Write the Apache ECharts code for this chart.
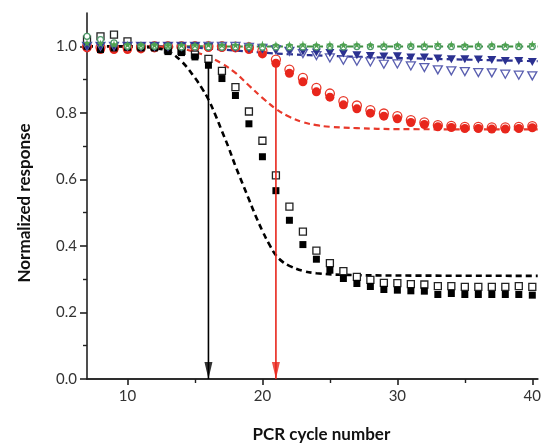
<!DOCTYPE html>
<html><head><meta charset="utf-8">
<script src="https://cdn.jsdelivr.net/npm/echarts@6/dist/echarts.min.js"></script>
<style>html,body{margin:0;padding:0;background:#fff}#c{width:544px;height:448px}</style>
</head><body><div id="c"></div>
<script>
// ---- data ----
const cycles = [7,8,9,10,11,12,13,14,15,16,17,18,19,20,21,22,23,24,25,26,27,28,29,30,31,32,33,34,35,36,37,38,39,40];
const blackFilled = [1.0,0.99,0.995,0.997,0.995,0.995,0.984,0.981,0.968,0.943,0.903,0.852,0.767,0.668,0.566,0.477,0.404,0.360,0.327,0.302,0.287,0.278,0.269,0.267,0.265,0.264,0.254,0.257,0.254,0.254,0.254,0.254,0.254,0.252];
const blackOpen = [1.02,1.03,1.035,1.015,1.0,1.0,0.99,0.986,0.975,0.962,0.926,0.877,0.804,0.716,0.612,0.518,0.443,0.386,0.348,0.324,0.307,0.298,0.289,0.288,0.285,0.284,0.279,0.279,0.277,0.277,0.277,0.277,0.279,0.277];
const redFilled = [0.995,0.99,0.99,0.99,0.992,0.995,0.997,0.997,0.996,0.996,0.996,0.995,0.99,0.977,0.949,0.919,0.893,0.863,0.847,0.824,0.812,0.799,0.79,0.782,0.771,0.765,0.758,0.756,0.753,0.753,0.751,0.751,0.753,0.755];
const redOpen = [1.0,0.997,0.997,0.997,0.998,1.0,1.0,1.0,1.0,1.0,1.0,0.999,0.997,0.987,0.96,0.93,0.905,0.875,0.858,0.835,0.822,0.808,0.798,0.79,0.778,0.771,0.763,0.761,0.758,0.758,0.756,0.756,0.758,0.76];
const blueFilled = [1.0,1.0,1.0,1.0,1.0,1.0,1.0,1.0,1.0,0.998,0.996,0.994,0.992,0.99,0.988,0.986,0.984,0.981,0.98,0.978,0.973,0.971,0.969,0.97,0.966,0.966,0.963,0.961,0.961,0.96,0.959,0.956,0.956,0.953];
const blueOpen = [1.0,1.0,1.0,1.0,1.0,1.0,1.0,1.0,1.0,1.0,1.0,1.0,0.997,0.994,0.99,0.985,0.978,0.972,0.965,0.958,0.955,0.953,0.946,0.947,0.941,0.936,0.929,0.926,0.924,0.921,0.92,0.916,0.913,0.911];
const greenStar = [1.01,1.008,1.006,1.005,1.004,1.004,1.003,1.004,1.004,1.005,1.004,1.004,1.003,1.005,1.004,1.004,1.005,1.004,1.005,1.004,1.005,1.004,1.005,1.004,1.005,1.005,1.006,1.005,1.004,1.005,1.005,1.004,1.005,1.006];
const greenOpen = [1.03,1.02,1.01,1.0,1.0,1.0,1.0,0.998,0.998,0.998,0.997,0.998,0.998,0.997,0.998,0.998,0.998,0.998,0.999,0.998,0.999,0.999,0.998,0.999,0.999,0.998,0.999,0.999,0.998,0.999,0.999,0.998,0.999,0.999];
const blackFit = [[7,1.0],[9,1.0],[11,0.998],[12,0.995],[13,0.985],[14,0.955],[15,0.905],[15.5,0.875],[16,0.84],[16.5,0.795],[17,0.745],[17.5,0.695],[18,0.64],[18.5,0.59],[19,0.54],[19.5,0.49],[20,0.445],[20.5,0.405],[21,0.372],[21.5,0.352],[22,0.34],[23,0.325],[24,0.318],[26,0.313],[30,0.311],[40.4,0.31]];
const redFit = [[7,1.0],[13,0.998],[14,0.993],[15,0.983],[16,0.968],[17,0.948],[18,0.92],[19,0.882],[20,0.845],[21,0.812],[22,0.788],[23,0.772],[24,0.763],[25,0.758],[27,0.754],[30,0.751],[40.4,0.75]];
const blueFit = [[7,1.0],[14,0.998],[16,0.993],[18,0.987],[20,0.981],[22,0.976],[25,0.971],[30,0.965],[35,0.96],[40.4,0.955]];
const greenFit = [[7,1.0],[40.4,0.999]];
const blackArrow = [[16,0.94],[16,0]];
const redArrow = [[21,0.952],[21,0]];
const xMajor = [10,20,30,40];
const xMinor = [15,25,35];
const yMajor = [0,0.2,0.4,0.6,0.8,1.0];
const yMinor = [0.1,0.3,0.5,0.7,0.9];

// ---- chart ----
const pair = arr => cycles.map((c,i)=>[c,arr[i]]);
const STAR = 'path://M50,0 L61,35 L98,35 L68,57 L79,91 L50,70 L21,91 L32,57 L2,35 L39,35 Z';
const AX = '#222';
const font = 'Lato, "Open Sans", sans-serif';
const chart = echarts.init(document.getElementById('c'), null, {renderer:'canvas'});
const XMIN = 7, XMAX = 40.4, YMIN = 0, YMAX = 1.1;
function scat(data, symbol, size, fill, border, rot){
  return {type:'scatter', data, symbol, symbolSize:size, symbolRotate:rot||0,
    itemStyle:{color:fill, borderColor:border, borderWidth: fill==='#fff'?1.3:0, opacity:1}, z:3, silent:true};
}
function fit(data, color, width, dash){
  return {type:'line', data, smooth:0.4, showSymbol:false, symbol:'none', z:2,
    lineStyle:{color, width, type:dash}, silent:true};
}
function arrow(data, color){
  return [
    {type:'line', data, showSymbol:false, symbol:'none', z:5, lineStyle:{color, width:1.6}, silent:true},
    {type:'scatter', data:[data[1]], symbol:'triangle', symbolRotate:180, symbolSize:[8,17], symbolOffset:[0,-8.5], z:6,
      itemStyle:{color}, silent:true}
  ];
}
chart.setOption({
  animation:false,
  grid:{left:87, right:0, top:13, bottom:65, containLabel:false},
  xAxis:[
    {type:'value', min:XMIN, max:XMAX, position:'bottom',
     axisLine:{show:true, onZero:false, lineStyle:{color:AX, width:1.6}},
     axisTick:{show:true, customValues:xMajor, length:6, inside:false, lineStyle:{color:AX, width:1.6}},
     axisLabel:{customValues:xMajor, color:'#333', fontSize:15, fontFamily:font, margin:10},
     splitLine:{show:false},
     name:'PCR cycle number', nameLocation:'middle', nameGap:47,
     nameTextStyle:{fontSize:17, fontWeight:'bold', color:'#111', fontFamily:font, padding:[0,0,0,18]}},
    {type:'value', min:XMIN, max:XMAX, position:'bottom',
     axisLine:{show:false}, axisTick:{show:true, customValues:xMinor, length:4, lineStyle:{color:AX, width:1.4}},
     axisLabel:{show:false}, splitLine:{show:false}},
    {type:'value', min:XMIN, max:XMAX, position:'top',
     axisLine:{show:true, lineStyle:{color:AX, width:1.6}}, axisTick:{show:false}, axisLabel:{show:false}, splitLine:{show:false}}
  ],
  yAxis:[
    {type:'value', min:YMIN, max:YMAX, position:'left',
     axisLine:{show:true, onZero:false, lineStyle:{color:AX, width:1.6}},
     axisTick:{show:true, customValues:yMajor, length:7, lineStyle:{color:AX, width:1.6}},
     axisLabel:{customValues:yMajor, formatter:v=>v.toFixed(1), color:'#333', fontSize:15, fontFamily:font, margin:10},
     splitLine:{show:false},
     name:'Normalized response', nameLocation:'middle', nameGap:54, nameRotate:90,
     nameTextStyle:{fontSize:17, fontWeight:'bold', color:'#111', fontFamily:font, padding:[0,14,0,0]}},
    {type:'value', min:YMIN, max:YMAX, position:'left',
     axisLine:{show:false}, axisTick:{show:true, customValues:yMinor, length:4, lineStyle:{color:AX, width:1.4}},
     axisLabel:{show:false}, splitLine:{show:false}}
  ],
  series:[
    fit(greenFit,'#3d8f3d',2,[6,4]),
    fit(blueFit,'#2b3190',2.2,[6,4]),
    fit(redFit,'#e8392b',2.2,[6,4]),
    fit(blackFit,'#000',2.6,[6,4]),
    scat(pair(redOpen),'circle',9,'#fff','#e8392b'),
    scat(pair(redFilled),'circle',9,'#e8261c','#e8261c'),
    scat(pair(blackOpen),'rect',7,'#fff','#222'),
    scat(pair(blackFilled),'rect',7,'#000','#000'),
    scat(pair(blueOpen),'triangle',[9,8],'#fff','#5a5fb0',180),
    scat(pair(blueFilled),'triangle',[9,8],'#2b3190','#2b3190',180),
    scat(pair(greenOpen),'circle',6,'#fff','#4f9a6a'),
    scat(pair(greenStar),STAR,8,'#4ea24e','#4ea24e'),
    ...arrow(blackArrow,'#000'),
    ...arrow(redArrow,'#e8261c')
  ]
});
</script></body></html>
